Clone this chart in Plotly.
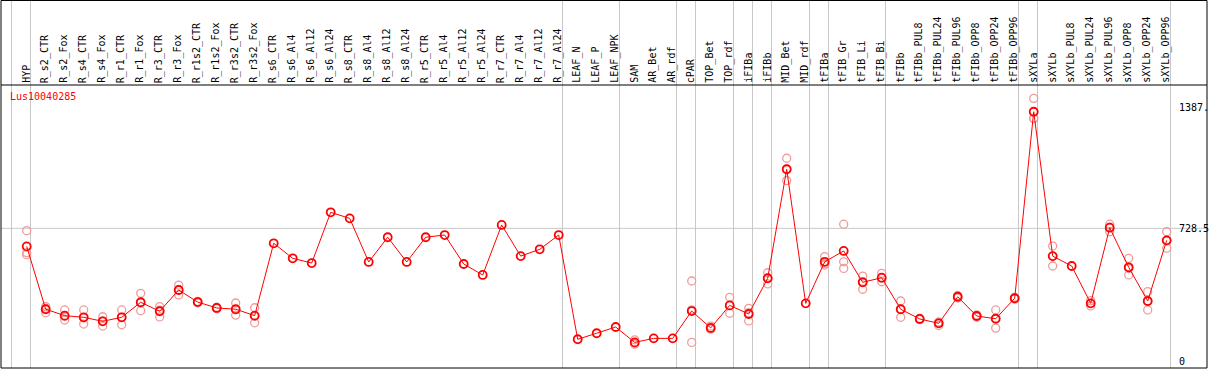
import plotly.graph_objects as go

labels = ["HYP", "R_s2_CTR", "R_s2_Fox", "R_s4_CTR", "R_s4_Fox", "R_r1_CTR", "R_r1_Fox",
          "R_r3_CTR", "R_r3_Fox", "R_r1s2_CTR", "R_r1s2_Fox", "R_r3s2_CTR", "R_r3s2_Fox",
          "R_s6_CTR", "R_s6_Al4", "R_s6_Al12", "R_s6_Al24", "R_s8_CTR", "R_s8_Al4", "R_s8_Al12",
          "R_s8_Al24", "R_r5_CTR", "R_r5_Al4", "R_r5_Al12", "R_r5_Al24", "R_r7_CTR", "R_r7_Al4",
          "R_r7_Al12", "R_r7_Al24", "LEAF_N", "LEAF_P", "LEAF_NPK", "SAM", "AR_Bet", "AR_rdf",
          "cPAR", "TOP_Bet", "TOP_rdf", "iFIBa", "iFIBb", "MID_Bet", "MID_rdf", "tFIBa",
          "tFIB_Gr", "tFIB_Li", "tFIB_Bi", "tFIBb", "tFIBb_PUL8", "tFIBb_PUL24", "tFIBb_PUL96",
          "tFIBb_OPP8", "tFIBb_OPP24", "tFIBb_OPP96", "sXYLa", "sXYLb", "sXYLb_PUL8",
          "sXYLb_PUL24", "sXYLb_PUL96", "sXYLb_OPP8", "sXYLb_OPP24", "sXYLb_OPP96"]

means = [630, 287, 252, 243, 221, 243, 325, 276, 392, 326, 294, 287, 252,
         647, 565, 539, 816, 783, 545, 680, 545, 680, 692, 534, 474, 747, 577, 614, 692,
         123, 156, 190, 106, 128, 128, 277, 185, 308, 261, 456, 1051, 319, 546,
         605, 434, 459, 287, 234, 210, 355, 250, 235, 347, 1365, 577, 523,
         319, 732, 516, 332, 663]

rep_a = [716, 301, 283, 283, 246, 283, 374, 301, 419, 330, 298, 321, 295,
         None, None, None, None, None, None, None, None, None, None, None, None, None, None, None, None,
         None, None, None, 120, None, None, 441, 195, 352, 292, 486, 1111, None, 574,
         751, 468, 483, 332, 238, 216, 362, 256, 283, 352, 1438, 632, None,
         334, 751, 565, 383, 710]
rep_b = [596, 268, 228, 206, 195, 202, 279, 245, 365, 322, 290, 255, 213,
         None, None, None, None, None, None, None, None, None, None, None, None, None, None, None, None,
         None, None, None, 102, None, None, 106, 178, 265, 223, 425, 989, None, 536,
         546, 396, 437, 243, 230, 198, 348, 244, 184, 342, 1330, 523, None,
         305, 710, 474, 283, 620]
rep_c = [585, 292, 248, 240, 222, 244, 322, 282, 392, 326, 294, 285, 248,
         None, None, None, None, None, None, None, None, None, None, None, None, None, None, None, None,
         None, None, None, 96, None, None, 284, 182, 307, 268, 457, 1053, None, 528,
         510, 438, 457, 286, 234, 216, 355, 250, 238, 347, 1327, 576, None,
         318, 735, 509, 330, 659]

# group separators: placed after these column numbers
group_ends = [0, 1, 29, 32, 35, 36, 38, 39, 40, 42, 43, 46, 53, 54, 61]

y_ticks = [0, 728.5, 1387]
y_ticktext = ["0", "728.5", "1387."]
gene = "Lus10040285"

xs = list(range(1, len(labels) + 1))

fig = go.Figure()

rx, ry = [], []
for reps in (rep_a, rep_b, rep_c):
    for x, v in zip(xs, reps):
        if v is not None:
            rx.append(x)
            ry.append(v)

fig.add_trace(go.Scatter(x=rx, y=ry, mode="markers",
                         marker=dict(symbol="circle-open", size=8, color="#f09a9a",
                                     line=dict(width=1.3, color="#f09a9a")),
                         hoverinfo="skip", showlegend=False))
fig.add_trace(go.Scatter(x=xs, y=means, mode="lines+markers",
                         line=dict(color="#ff0000", width=1),
                         marker=dict(symbol="circle-open", size=8, color="#ff0000",
                                     line=dict(width=1.8, color="#ff0000")),
                         showlegend=False))

H_PLOT = 283.0
TOP = 85.0
top_paper = 1 + (TOP - 0.5) / H_PLOT

shapes = []
for g in group_ends:
    shapes.append(dict(type="line", xref="x", yref="paper", x0=g + 0.2, x1=g + 0.2,
                       y0=0, y1=top_paper, line=dict(color="#c8c8c8", width=1), layer="below"))
shapes.append(dict(type="line", xref="paper", yref="y", x0=0, x1=1, y0=728.5, y1=728.5,
                   line=dict(color="#c8c8c8", width=1), layer="below"))
# frame
shapes.append(dict(type="rect", xref="paper", yref="paper", x0=0, x1=1, y0=0, y1=top_paper,
                   line=dict(color="black", width=1)))
shapes.append(dict(type="line", xref="paper", yref="paper", x0=0, x1=1, y0=1, y1=1,
                   line=dict(color="black", width=1)))

font = dict(family="DejaVu Sans Mono", size=10, color="black")
annotations = []
for x, lab in zip(xs, labels):
    annotations.append(dict(x=x, y=1, xref="x", yref="paper", text=lab, textangle=-90,
                            showarrow=False, xanchor="center", yanchor="bottom",
                            yshift=1, xshift=-1, borderpad=0, font=font))
for v, t in zip(y_ticks, y_ticktext):
    annotations.append(dict(x=(1178 - 1) / 1206, y=v, xref="paper", yref="y", text=t,
                            showarrow=False, xanchor="left", yanchor="middle", borderpad=0,
                            font=font))
annotations.append(dict(x=(9 - 1) / 1206, y=(368 - 97) / H_PLOT, xref="paper", yref="paper",
                        text=gene, showarrow=False, xanchor="left", yanchor="middle",
                        borderpad=0, font=dict(family="DejaVu Sans Mono", size=10, color="#ff0000")))

fig.update_layout(
    width=1209, height=370,
    margin=dict(l=1, r=2, t=85, b=2),
    paper_bgcolor="white", plot_bgcolor="white",
    xaxis=dict(range=[1 - 25.7 / 19, 1 - 25.7 / 19 + 1206 / 19], showgrid=False,
               zeroline=False, showticklabels=False, ticks="", showline=False,
               automargin=False),
    yaxis=dict(range=[-33.8, -33.8 + H_PLOT / 0.1832], showgrid=False, zeroline=False,
               showticklabels=False, ticks="", showline=False, automargin=False),
    shapes=shapes, annotations=annotations,
)

fig.write_html("out.html", config={"displayModeBar": False},
               post_script="document.body.style.margin='0px';document.body.style.overflow='hidden';")
